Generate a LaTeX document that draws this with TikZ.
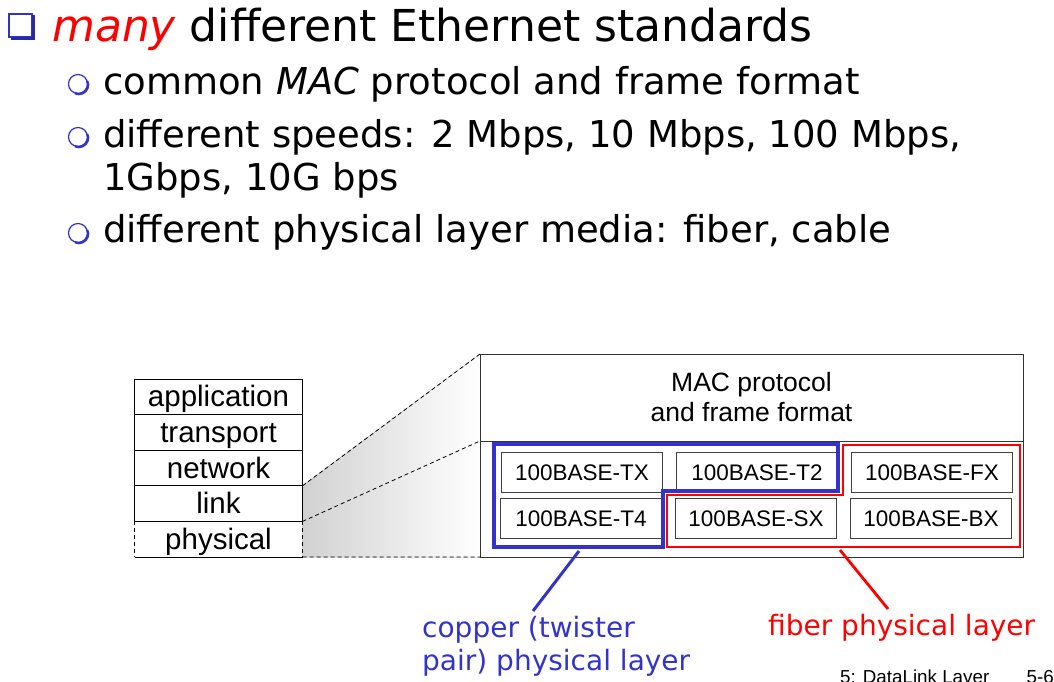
\documentclass[tikz,border=0pt]{standalone}
\usepackage{fontspec}
\setmainfont{DejaVu Sans}
\newfontfamily\arialfont{Liberation Sans}
\usetikzlibrary{positioning,backgrounds}
\definecolor{bulletblue}{RGB}{51,51,204}
\definecolor{slidered}{RGB}{255,0,0}

\tikzset{
  titletext/.style={anchor=base west, inner sep=0pt, font=\fontsize{44}{48}\selectfont},
  bullettext/.style={anchor=base west, inner sep=0pt, font=\fontsize{37}{43}\selectfont},
  layerbox/.style={draw, line width=1pt, minimum width=168pt, minimum height=35.6pt,
    inner sep=0pt, outer sep=0pt, text height=24pt, text depth=4pt,
    font=\arialfont\fontsize{29.5}{29.5}\selectfont},
  ethpart/.style={draw=black!80, line width=1pt, minimum width=543pt, inner sep=0pt,
    outer sep=0pt, align=center, font=\arialfont\fontsize{26.5}{30}\selectfont},
  stdbox/.style={draw=black!75, line width=1pt, minimum width=161pt, minimum height=40pt,
    inner sep=0pt, text height=16.1pt, text depth=0pt,
    font=\arialfont\fontsize{22.5}{22.5}\selectfont},
  zoomline/.style={dashed, dash pattern=on 4pt off 3pt, line width=0.8pt},
  medialabel/.style={anchor=base west, inner sep=0pt, align=left,
    font=\fontsize{28}{33}\selectfont}
}

\begin{document}
\begin{tikzpicture}[x=1pt, y=-1pt]
  \useasboundingbox (0,0) rectangle (1054,682);

  % bullets
  \draw[bulletblue, line width=1.2pt] (9,14) rectangle (32,37);
  \draw[bulletblue!80!black, line width=2.6pt] (33.5,15.5) -- (33.5,38.8) -- (10.5,38.8);
  \foreach \by in {84,137,233} {
    \draw[bulletblue, line width=1.2pt] (78,\by) circle (9.5pt);
    \draw[bulletblue, line width=2.4pt] (78.8,\by+0.8) ++(25:9.3pt)
      arc[start angle=25, end angle=-115, radius=9.3pt];
  }

  \node[titletext] (title) at (52,42) {{\color{slidered}\itshape many} different Ethernet standards};
  \node[bullettext] (mac_line) at (103,95) {common \textit{MAC} protocol and frame format};
  \node[bullettext] (speed_line) at (103,147) {different speeds: 2 Mbps, 10 Mbps, 100 Mbps,};
  \node[bullettext] (speed_cont) at (103,190) {1Gbps, 10G bps};
  \node[bullettext] (media_line) at (103,242) {different physical layer media: fiber, cable};

  % protocol stack
  \node[layerbox] (app) at (218.5,396.8) {application};
  \node[layerbox, below=0pt of app] (trans) {transport};
  \node[layerbox, below=0pt of trans] (net) {network};
  \node[layerbox, below=0pt of net] (link) {link};
  \node[layerbox, draw=none, below=0pt of link] (phy) {physical};

  % ethernet box
  \node[ethpart, minimum height=87pt] (mac) at (751.5,397.5) {MAC protocol\\and frame format};
  \node[ethpart, minimum height=116pt, below=0pt of mac] (phys) {};

  % zoom shading and lines
  \begin{scope}[on background layer]
    \fill[left color=black!18, right color=white]
      (link.north east) -- (mac.north west) -- (phys.south west) -- (phy.south east) -- cycle;
  \end{scope}
  \draw[zoomline] (link.north east) -- (mac.north west);
  \draw[zoomline] (link.south east) -- (mac.south west);
  \draw[zoomline] (phy.south east) -- (phys.south west);
  \draw[zoomline] (phy.north west) -- (phy.south west);
  \draw[zoomline] (phy.north east) -- (phy.south east);
  \draw[line width=1pt] (phy.south west) -- (phy.south east);

  % standards
  \node[stdbox] (tx) at (582,472) {100BASE-TX};
  \node[stdbox, right=13pt of tx] (t2) {100BASE-T2};
  \node[stdbox, right=13pt of t2] (fx) {100BASE-FX};
  \node[stdbox] (t4) at (581,518.5) {100BASE-T4};
  \node[stdbox, right=13pt of t4] (sx) {100BASE-SX};
  \node[stdbox, right=13pt of sx] (bx) {100BASE-BX};

  % groups
  \draw[bulletblue, line width=3.2pt]
    (494,444) -- (838,444) -- (838,491) -- (663,491) -- (663,547) -- (494,547) -- cycle;
  \draw[slidered, line width=2.8pt]
    (843,445) -- (1020,445) -- (1020,547) -- (667,547) -- (667,495) -- (843,495) -- cycle;

  % labels
  \node[medialabel, text=bulletblue] (copper) at (422,670) {copper (twister\\pair) physical layer};
  \node[medialabel, text=slidered] (fiber) at (768,635) {fiber physical layer};
  \coordinate (cu_top) at (579,551);
  \coordinate (cu_end) at (533,611);
  \coordinate (fi_top) at (840,550);
  \coordinate (fi_end) at (888,609);
  \draw[bulletblue, line width=3pt] (cu_top) -- (cu_end);
  \draw[slidered, line width=2.8pt] (fi_top) -- (fi_end);

  % footer
  \node[anchor=base west, inner sep=0pt, font=\arialfont\fontsize{18.8}{20}\selectfont] (chapter) at (840,683.5) {5: DataLink Layer};
  \node[anchor=base east, inner sep=0pt, font=\arialfont\fontsize{18.8}{20}\selectfont] (page) at (1054,683.5) {5-6};
\end{tikzpicture}
\end{document}
